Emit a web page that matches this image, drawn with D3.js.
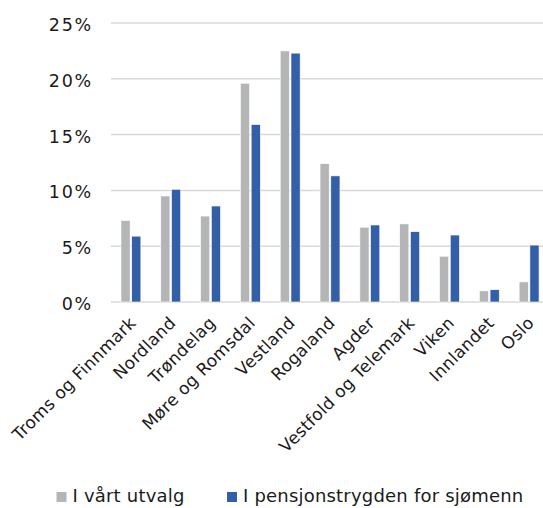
<!DOCTYPE html>
<html>
<head>
<meta charset="utf-8">
<script src="https://cdn.jsdelivr.net/npm/d3@7"></script>
<style>
  html, body { margin: 0; padding: 0; background: #fff; overflow: hidden; }
  svg { display: block; font-family: "DejaVu Sans", sans-serif; }
</style>
</head>
<body>
<svg id="chart" width="543" height="508"></svg>
<script>
// Fylker (regions)
const categories = [
  "Troms og Finnmark", "Nordland", "Trøndelag", "Møre og Romsdal", "Vestland",
  "Rogaland", "Agder", "Vestfold og Telemark", "Viken", "Innlandet", "Oslo"
];
// Share (%) per region
const utvalg = [7.3, 9.5, 7.7, 19.6, 22.5, 12.4, 6.7, 7.0, 4.1, 1.0, 1.8];
const pensjonstrygden = [5.9, 10.1, 8.6, 15.9, 22.3, 11.3, 6.9, 6.3, 6.0, 1.1, 5.1];
const seriesNames = ["I vårt utvalg", "I pensjonstrygden for sjømenn"];
const yTicks = [0, 5, 10, 15, 20, 25];

const colors = ["#b4b5b7", "#335ea8"];
const series = [utvalg, pensjonstrygden];

const svg = d3.select("#chart");
const plotLeft = 111, plotRight = 549, plotTop = 23, plotBottom = 302;

const x = d3.scaleBand().domain(categories).range([plotLeft, plotRight])
  .paddingInner(0.5).paddingOuter(0.25);
const xs = d3.scaleBand().domain(d3.range(series.length)).range([0, x.bandwidth()])
  .paddingInner(0.15);
const y = d3.scaleLinear().domain([0, 25]).range([plotBottom, plotTop]);

// Horizontal gridlines
svg.append("g")
  .selectAll("line")
  .data(yTicks)
  .join("line")
  .attr("x1", plotLeft).attr("x2", plotRight)
  .attr("y1", d => y(d)).attr("y2", d => y(d))
  .attr("stroke", "#d9d9d9").attr("stroke-width", 1.5);

// Y axis labels
const yAxis = d3.axisLeft(y).tickValues(yTicks).tickSize(0).tickPadding(0)
  .tickFormat(d => d + "%");
svg.append("g")
  .attr("transform", `translate(93,0)`)
  .call(yAxis)
  .call(g => g.select(".domain").remove())
  .selectAll("text")
  .attr("font-family", "DejaVu Sans, sans-serif")
  .attr("font-size", 17.5)
  .attr("letter-spacing", 1.8)
  .attr("dy", 7.5)
  .attr("fill", "#1a1a1a");

// Bars
const groups = svg.append("g")
  .selectAll("g")
  .data(categories)
  .join("g")
  .attr("transform", d => `translate(${x(d)},0)`);

groups.selectAll("rect")
  .data((d, i) => series.map((s, k) => ({ k, v: s[i] })))
  .join("rect")
  .attr("x", d => xs(d.k))
  .attr("width", xs.bandwidth())
  .attr("y", d => y(d.v))
  .attr("height", d => y(0) - y(d.v))
  .attr("fill", d => colors[d.k])
  .attr("stroke", "#fff").attr("stroke-width", 0.6);

// Category labels, rotated
const xAxis = d3.axisBottom(x).tickSize(0).tickPadding(0);
svg.append("g")
  .attr("transform", `translate(0,${plotBottom})`)
  .call(xAxis)
  .call(g => g.select(".domain").remove())
  .selectAll("text")
  .attr("font-family", "DejaVu Sans, sans-serif")
  .attr("font-size", 17)
  .attr("letter-spacing", 0.3)
  .attr("fill", "#1a1a1a")
  .attr("text-anchor", "end")
  .attr("dy", null)
  .attr("y", 0)
  .attr("transform", "translate(6,22) rotate(-45)");

// Legend
const legendItems = [
  { name: seriesNames[0], color: colors[0], x: 56.5 },
  { name: seriesNames[1], color: colors[1], x: 227 }
];
const legend = svg.append("g");
legend.selectAll("rect")
  .data(legendItems)
  .join("rect")
  .attr("x", d => d.x).attr("y", 492)
  .attr("width", 10).attr("height", 10)
  .attr("fill", d => d.color);
legend.selectAll("text")
  .data(legendItems)
  .join("text")
  .attr("x", d => d.x + 16).attr("y", 502)
  .attr("font-size", 18)
  .attr("letter-spacing", 0.2)
  .attr("fill", "#1a1a1a")
  .text(d => d.name);
</script>
</body>
</html>
